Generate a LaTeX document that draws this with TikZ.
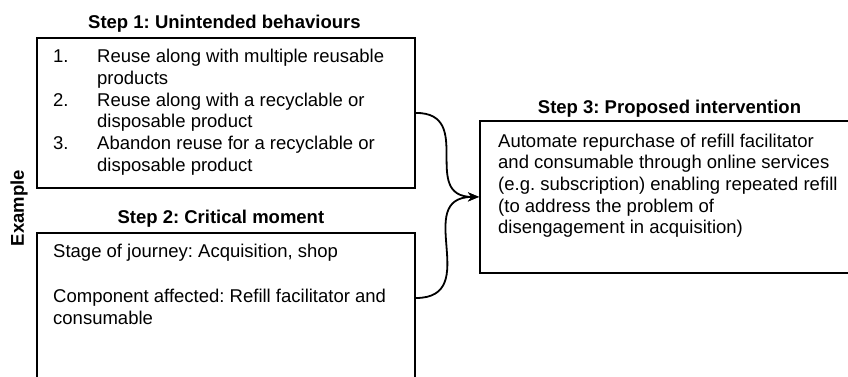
\documentclass[tikz,border=0pt]{standalone}
\usepackage{fontspec}
\setmainfont{Liberation Sans}
\frenchspacing
\usetikzlibrary{arrows.meta}

\begin{document}
\begin{tikzpicture}[
  x=1pt,y=-1pt,
  stepbox/.style={
    draw,
    line width=1.8pt,
    anchor=north west,
    inner sep=0pt,
    },
  steptitle/.style={font=\fontsize{18.5}{21.7}\selectfont\bfseries,anchor=base,inner sep=0pt},
  boxtext/.style={font=\fontsize{18.5}{21.7}\selectfont,anchor=base west,inner sep=0pt},
  link/.style={line width=1.8pt,-{Stealth[length=11pt,width=9pt]},out=0,in=180,looseness=1.45}
  ]
  \useasboundingbox (0,0) rectangle (848,376);
  \clip (0,0) rectangle (848,376);

  \node[stepbox,minimum width=378pt,minimum height=150pt] (box1) at (36,37) {};
  \node[stepbox,minimum width=378pt,minimum height=170pt] (box2) at (36,232) {};
  \node[stepbox,minimum width=400pt,minimum height=152pt] (box3) at (479,120) {};

  \node[steptitle]
    (title1) at ([xshift=-1.5pt,yshift=9pt]box1.north) {Step 1: Unintended behaviours};
  \node[steptitle]
    (title2) at ([xshift=-5pt,yshift=9pt]box2.north) {Step 2: Critical moment};
  \node[steptitle]
    (title3) at ([xshift=190.5pt,yshift=7pt]box3.north west) {Step 3: Proposed intervention};

  \node[boxtext] (text1) at ([xshift=17pt,yshift=-25.7pt]box1.north west)
  {\begin{tabular}[t]{@{}l@{}}
    \makebox[44pt][l]{1.}Reuse along with multiple reusable\\
    \hspace*{44pt}products\\
    \makebox[44pt][l]{2.}Reuse along with a recyclable or\\
    \hspace*{44pt}disposable product\\
    \makebox[44pt][l]{3.}Abandon reuse for a recyclable or\\
    \hspace*{44pt}disposable product
  \end{tabular}};
  \node[boxtext] (text2) at ([xshift=17pt,yshift=-25pt]box2.north west)
  {\begin{tabular}[t]{@{}l@{}}
    Stage of journey: Acquisition, shop\\[24pt]
    Component affected: Refill facilitator and\\
    consumable
  \end{tabular}};
  \node[boxtext] (text3) at ([xshift=19pt,yshift=-27pt]box3.north west)
  {\begin{tabular}[t]{@{}l@{}}
    Automate repurchase of refill facilitator\\
    and consumable through online services\\
    (e.g. subscription) enabling repeated refill\\
    (to address the problem of\\
    disengagement in acquisition)
  \end{tabular}};

  \node[font=\fontsize{18.5}{21.7}\selectfont\bfseries,rotate=90,inner sep=0pt]
    (example) at (19,208) {Example};

  \draw[link] (box1.east) to (box3.west);
  \draw[link] ([yshift=-66pt]box2.north east) to (box3.west);
\end{tikzpicture}
\end{document}
